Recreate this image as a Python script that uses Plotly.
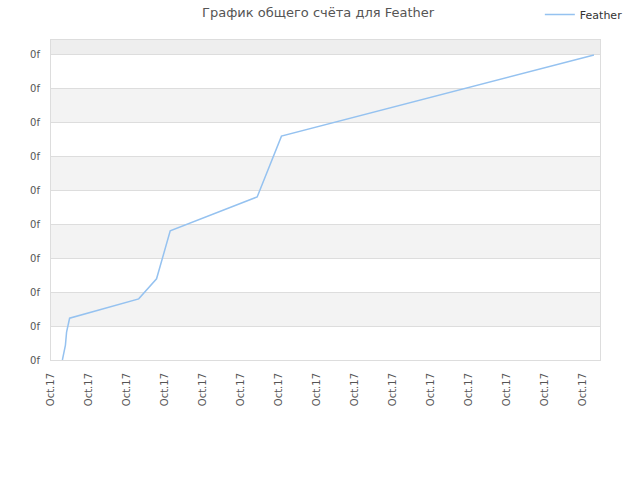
import plotly.graph_objects as go

# данные (позиции по оси X в шагах между подписями, значения по Y в делениях сетки)
x_vals = [0.30, 0.38, 0.41, 0.49, 2.31, 2.78, 3.14, 5.43, 6.07, 14.30]
y_vals = [0.00, 0.44, 0.82, 1.23, 1.80, 2.39, 3.80, 4.80, 6.59, 8.98]
x_tick_vals = list(range(15))
x_tick_text = ["Oct.17"] * 15
y_tick_vals = list(range(10))
y_tick_text = ["0f"] * 10

fig = go.Figure()

# чередующиеся полосы фона
bands = []
for i in range(1, 9, 2):
    bands.append(dict(type="rect", xref="paper", yref="y", x0=0, x1=1, y0=i, y1=i + 1,
                      fillcolor="#f3f3f3", line_width=0, layer="below"))
bands.append(dict(type="rect", xref="paper", yref="y", x0=0, x1=1, y0=9, y1=9.42,
                  fillcolor="#eeeeee", line_width=0, layer="below"))

fig.add_trace(go.Scatter(
    x=x_vals, y=y_vals, mode="lines", name="Feather",
    line=dict(color="#95c2f0", width=1.5),
))

fig.update_layout(
    width=640, height=480,
    margin=dict(l=51, r=40, t=40, b=120, autoexpand=False),
    paper_bgcolor="white", plot_bgcolor="white",
    font=dict(family="DejaVu Sans", size=10, color="#555555"),
    title=dict(text="График общего счёта для Feather", x=0.497, xanchor="center",
               y=0.975, yanchor="middle", font=dict(size=13, color="#555555")),
    showlegend=True,
    legend=dict(x=0.981, xanchor="right", y=1.007, yanchor="top",
                xref="container", yref="container",
                bgcolor="rgba(0,0,0,0)", font=dict(size=11, color="#333333"),
                itemwidth=30),
    shapes=bands,
)

fig.update_xaxes(
    range=[0, 14.46], tickmode="array", tickvals=x_tick_vals, ticktext=x_tick_text,
    tickangle=-90, showgrid=False, zeroline=False,
    showline=True, linecolor="#dddddd", linewidth=1, mirror=True,
    ticks="", ticklabelstandoff=8, automargin=False,
)
fig.update_yaxes(
    range=[0, 9.42], tickmode="array", tickvals=y_tick_vals, ticktext=y_tick_text,
    showgrid=True, gridcolor="#dddddd", gridwidth=1, zeroline=False,
    showline=True, linecolor="#dddddd", linewidth=1, mirror=True,
    ticks="", ticklabelstandoff=8, automargin=False,
)

fig.write_html("out.html", config={"displayModeBar": False},
               post_script="document.body.style.margin='0';")
